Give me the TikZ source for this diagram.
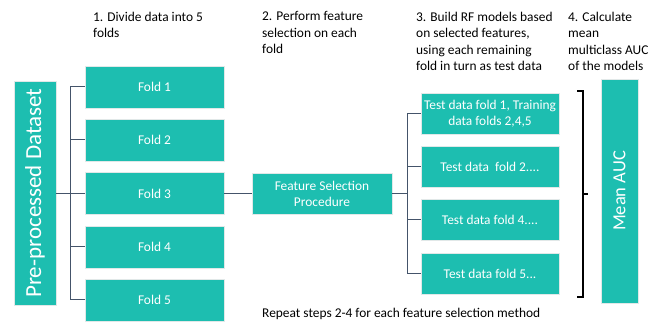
\documentclass[tikz,border=0pt]{standalone}
\usepackage{fontspec}
\setmainfont{Carlito}
\definecolor{teal1}{RGB}{29,190,176}
\definecolor{slate}{RGB}{68,84,106}
\definecolor{edge}{RGB}{225,232,232}
\begin{document}
\begin{tikzpicture}[x=1pt,y=-1pt,
  box/.style={fill=teal1,draw=edge,line width=0.8pt,inner sep=0pt,text=white,align=center,
    font=\fontsize{13.4}{16}\selectfont},
  conn/.style={draw=slate,line width=1pt},
  lbl/.style={anchor=north west,inner sep=0pt,align=left,font=\fontsize{13.4}{16.5}\selectfont},
  brk/.style={draw=black,line width=1.3pt}]
\useasboundingbox (0,0) rectangle (662,323);
% labels
\node[lbl] (l1) at (93,11.5) {1. Divide data into 5\\folds};
\node[lbl] (l2) at (262,11.5) {2. Perform feature\\selection on each\\fold};
\node[lbl] (l3) at (416,11.5) {3. Build RF models based\\on selected features,\\using each remaining\\fold in turn as test data};
\node[lbl] (l4) at (568,11.5) {4. Calculate\\mean\\multiclass AUC\\of the models};
% dataset
\node[box,minimum width=42,minimum height=224] (ds) at (35,193) {};
\node[rotate=90,text=white,font=\fontsize{23}{26}\selectfont] (dst) at (ds.center) {Pre-processed Dataset};
% folds
\foreach \i/\y in {1/87,2/140,3/193.5,4/247,5/300}
  \node[box,minimum width=139,minimum height=42] (f\i) at (154.5,\y) {Fold \i};
% feature selection
\node[box,minimum width=140,minimum height=41] (fs) at (322,193.5) {Feature Selection\\Procedure};
% tests
\node[box,minimum width=138,minimum height=41] (t1) at (490,113.5) {Test data fold 1, Training\\data folds 2,4,5};
\node[box,minimum width=138,minimum height=41] (t2) at (490,167) {Test data\ \ fold 2....};
\node[box,minimum width=138,minimum height=41] (t4) at (490,220) {Test data fold 4....};
\node[box,minimum width=138,minimum height=41] (t5) at (490,273.5) {Test data fold 5...};
% mean auc
\node[box,minimum width=37,minimum height=224] (auc) at (619.5,191) {};
\node[rotate=90,text=white,font=\fontsize{18.5}{20}\selectfont] (auct) at (auc.center) {Mean AUC};
% tree 1
\coordinate (j1) at (70,193.5);
\draw[conn] (ds.east |- j1) -- (j1);
\draw[conn] (f1.west -| j1) -- (f5.west -| j1);
\foreach \i in {1,...,5} \draw[conn] (f\i.west -| j1) -- (f\i.west);
\draw[conn] (f3.east) -- (fs.west);
% tree 2
\coordinate (j2) at (407,193.5);
\draw[conn] (fs.east) -- (j2);
\draw[conn] (t1.west -| j2) -- (t5.west -| j2);
\foreach \t in {t1,t2,t4,t5} \draw[conn] (\t.west -| j2) -- (\t.west);
% bracket
\coordinate (bt) at (583,91);
\coordinate (bb) at (583,297);
\coordinate (bm) at (583,194);
\coordinate (bmr) at (588,194);
\draw[brk] ([xshift=-6pt]bt) -- (bt) -- (bb) -- ([xshift=-6pt]bb);
\draw[brk] (bm) -- (bmr);
% bottom
\node[anchor=west,inner sep=0pt,font=\fontsize{13.4}{16}\selectfont] (rep) at (262,314) {Repeat steps 2-4 for each feature selection method};
\end{tikzpicture}
\end{document}
